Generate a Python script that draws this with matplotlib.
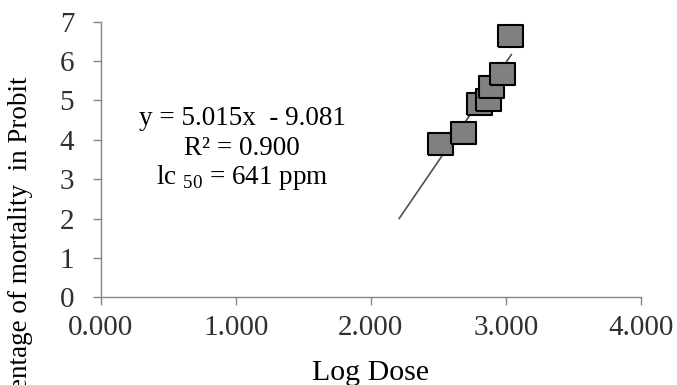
import matplotlib
matplotlib.use("Agg")
import matplotlib.pyplot as plt

# probit regression of mortality against log dose
log_dose = [2.512, 2.684, 2.800, 2.864, 2.886, 2.969, 3.032]
probit = [3.886, 4.173, 4.900, 5.000, 5.330, 5.667, 6.642]

slope = 5.015
intercept = -9.081
trend_x = [2.21, 3.04]
trend_y = [slope * v + intercept for v in trend_x]

x_ticks = [0, 1, 2, 3, 4]
x_ticklabels = ['0.000', '1.000', '2.000', '3.000', '4.000']
y_ticks = [0, 1, 2, 3, 4, 5, 6, 7]

plt.rcParams['font.family'] = ['Liberation Serif', 'DejaVu Serif']
plt.rcParams['mathtext.fontset'] = 'custom'
plt.rcParams['mathtext.rm'] = 'Liberation Serif'

fig = plt.figure(figsize=(6.77, 3.85), dpi=100)
ax = fig.add_axes([0.1487, 0.2278, 0.7981, 0.7158])

grey = '#868686'
ax.plot(trend_x, trend_y, color='#505050', lw=1.2, zorder=2)

# slightly wide boxes, like the stretched original
box = [(-1.17, -1), (1.17, -1), (1.17, 1), (-1.17, 1), (-1.17, -1)]
ax.plot(log_dose, probit, ls='none', marker=box, markersize=18,
        markerfacecolor='#808080', markeredgecolor='black',
        markeredgewidth=1.5, zorder=3)

ax.set_xlim(0, 4)
ax.set_ylim(0, 7)
ax.set_xticks(x_ticks)
ax.set_xticklabels(x_ticklabels)
ax.set_yticks(y_ticks)

for side in ['top', 'right']:
    ax.spines[side].set_visible(False)
for side in ['left', 'bottom']:
    ax.spines[side].set_color(grey)
    ax.spines[side].set_linewidth(1.0)
    ax.spines[side].set_zorder(1)

ax.tick_params(axis='both', color=grey, width=1.0, length=6,
               labelsize=21, labelcolor='#303030')
ax.tick_params(axis='y', pad=13)
ax.tick_params(axis='x', pad=7)

ax.set_xlabel('Log Dose', fontsize=21.5, va='baseline')
ax.xaxis.set_label_coords(0.5, -0.300)
ax.set_ylabel('Percentage of mortality  in Probit', fontsize=19.5,
              loc='top', va='center')
ax.yaxis.set_label_coords(-0.149, 0.80)

eq_lines = ['y = 5.015x  - 9.081', 'R\u00b2 = 0.900', 'lc $_{50}$ = 641 ppm']
eq_baselines = [125, 155, 183.5]
for line, yb in zip(eq_lines, eq_baselines):
    fig.text(242 / 677, 1 - yb / 385, line, fontsize=19.5,
             ha='center', va='baseline', color='black')

fig.savefig('out.png', dpi=100)
